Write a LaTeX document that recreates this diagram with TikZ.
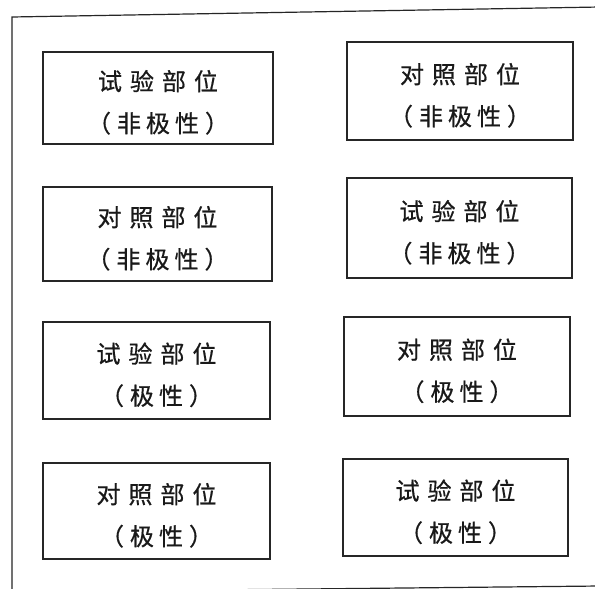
\documentclass[tikz,border=0pt]{standalone}
\usepackage{fontspec}
\newfontfamily\cjk[FakeBold=0.6]{Noto Sans CJK SC}
\newcommand{\chgap}{\hspace{8pt}}
\newcommand{\pgap}{\hspace{5pt}}
\newcommand{\qgap}{\hspace{6pt}}
\newcommand{\lift}{\rule{0pt}{29pt}}
\begin{document}
\begin{tikzpicture}[x=1pt,y=-1pt,
  frame/.style={line width=1.2pt, draw=black!85},
  cell/.style={draw=black!85, line width=1.2pt, inner sep=0pt, align=center,
    font=\cjk\fontsize{24pt}{42pt}\selectfont, text=black!90}]
\useasboundingbox (0,0) rectangle (595,589);
\fill[white] (0,0) rectangle (595,589);
\coordinate (tl) at (12,17);
\coordinate (tr) at (600,7);
\coordinate (bl) at (12,592);
\coordinate (br) at (600,586);
\draw[frame] (tr) -- (tl) -- (bl);
\draw[frame] (bl) -- (br);
% left column
\node[cell, minimum width=230pt, minimum height=92pt] (l1) at (158,98)
  {\lift 试\chgap 验\chgap 部\chgap 位\\（\qgap 非\pgap 极\pgap 性\qgap ）};
\node[cell, minimum width=229pt, minimum height=94pt] (l2) at (157.5,234)
  {\lift 对\chgap 照\chgap 部\chgap 位\\（\qgap 非\pgap 极\pgap 性\qgap ）};
\node[cell, minimum width=227pt, minimum height=97pt] (l3) at (156.5,370.5)
  {\lift 试\chgap 验\chgap 部\chgap 位\\（\qgap 极\pgap 性\qgap ）};
\node[cell, minimum width=227pt, minimum height=96pt] (l4) at (156.5,511)
  {\lift 对\chgap 照\chgap 部\chgap 位\\（\qgap 极\pgap 性\qgap ）};
% right column
\node[cell, minimum width=226pt, minimum height=98pt] (r1) at (460,91)
  {\lift 对\chgap 照\chgap 部\chgap 位\\（\qgap 非\pgap 极\pgap 性\qgap ）};
\node[cell, minimum width=225pt, minimum height=100pt] (r2) at (459.5,228)
  {\lift 试\chgap 验\chgap 部\chgap 位\\（\qgap 非\pgap 极\pgap 性\qgap ）};
\node[cell, minimum width=226pt, minimum height=99pt] (r3) at (457,366.5)
  {\lift 对\chgap 照\chgap 部\chgap 位\\（\qgap 极\pgap 性\qgap ）};
\node[cell, minimum width=225pt, minimum height=97pt] (r4) at (455.5,507.5)
  {\lift 试\chgap 验\chgap 部\chgap 位\\（\qgap 极\pgap 性\qgap ）};
\end{tikzpicture}
\end{document}
